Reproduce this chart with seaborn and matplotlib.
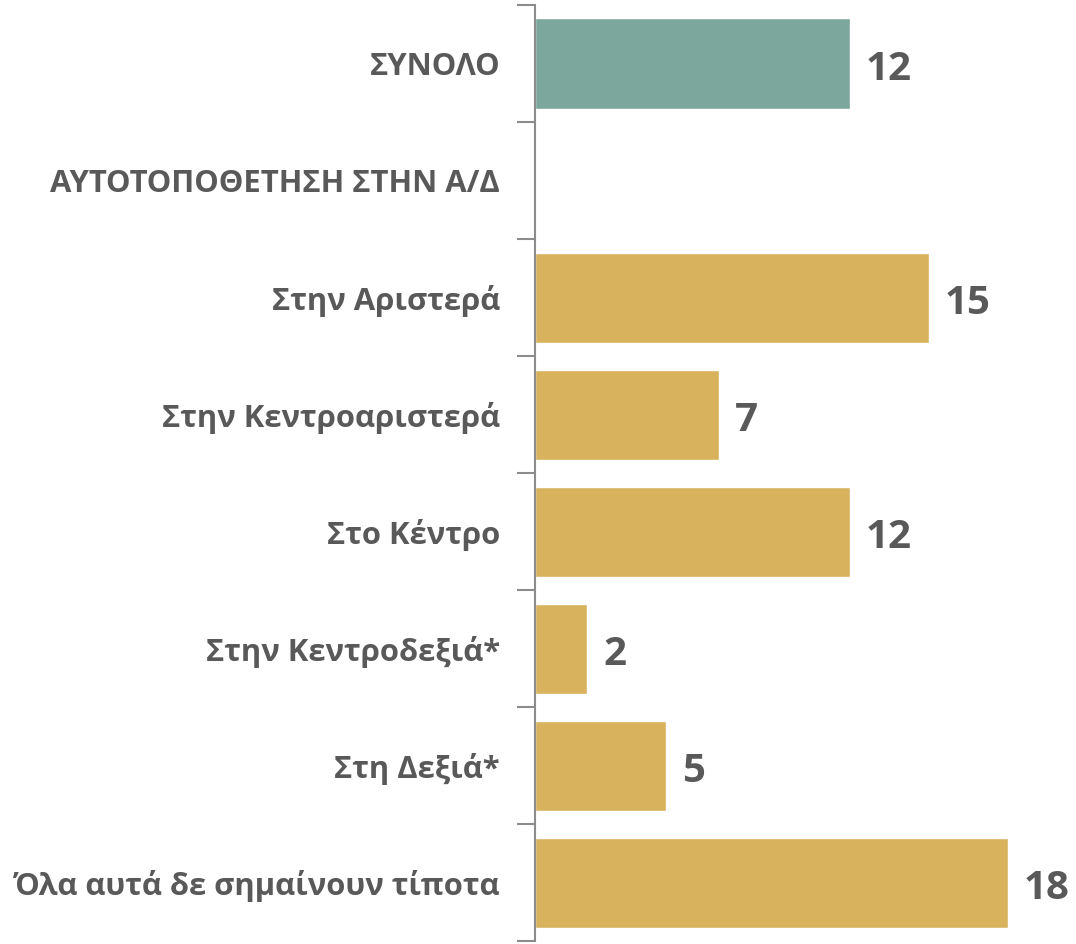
import numpy as np
import pandas as pd
import matplotlib
matplotlib.use("Agg")
import matplotlib.pyplot as plt
import seaborn as sns

# δεδομένα
categories = ["ΣΥΝΟΛΟ", "ΑΥΤΟΤΟΠΟΘΕΤΗΣΗ ΣΤΗΝ Α/Δ", "Στην Αριστερά",
              "Στην Κεντροαριστερά", "Στο Κέντρο", "Στην Κεντροδεξιά*",
              "Στη Δεξιά*", "Όλα αυτά δε σημαίνουν τίποτα"]
values = [12, np.nan, 15, 7, 12, 2, 5, 18]
groups = ["total", "header", "sub", "sub", "sub", "sub", "sub", "sub"]

palette = {"total": "#7BA79C", "header": "#D9B25E", "sub": "#D9B25E"}
text_color = "#595959"

df = pd.DataFrame({"cat": categories, "val": values, "grp": groups})

sns.set_style("white")
plt.rcParams["font.family"] = ["Open Sans", "DejaVu Sans"]

fig = plt.figure(figsize=(10.76, 9.44), dpi=100)
ax = fig.add_axes([0.497, 0.003, 0.501, 0.9917])

sns.barplot(data=df, x="val", y="cat", hue="grp", palette=palette,
            order=categories, dodge=False, width=0.77, legend=False,
            saturation=1, ax=ax)

ax.set_xlim(0, 20.5)
ax.set_ylim(len(categories) - 0.5, -0.5)
ax.set_xlabel("")
ax.set_ylabel("")
ax.set_xticks([])

for s in ["top", "right", "bottom"]:
    ax.spines[s].set_visible(False)
ax.spines["left"].set_color("#8C8C8C")
ax.spines["left"].set_linewidth(1.5)

# κατηγορίες
ax.set_yticks(range(len(categories)))
ax.set_yticklabels(categories, fontsize=22.3, fontweight="bold", color=text_color)
ax.tick_params(axis="y", which="major", length=0, pad=25)
ax.set_yticks(np.arange(-0.5, len(categories), 1), minor=True)
ax.tick_params(axis="y", which="minor", length=13, width=1.5, color="#8C8C8C", left=True)

# ετικέτες τιμών
for i, v in enumerate(values):
    if not np.isnan(v):
        ax.text(v + 0.6, i + 0.05, f"{v:.0f}", va="center", ha="left",
                fontsize=29, fontweight="bold", color=text_color)

plt.savefig("out.png", dpi=100)
plt.close()
